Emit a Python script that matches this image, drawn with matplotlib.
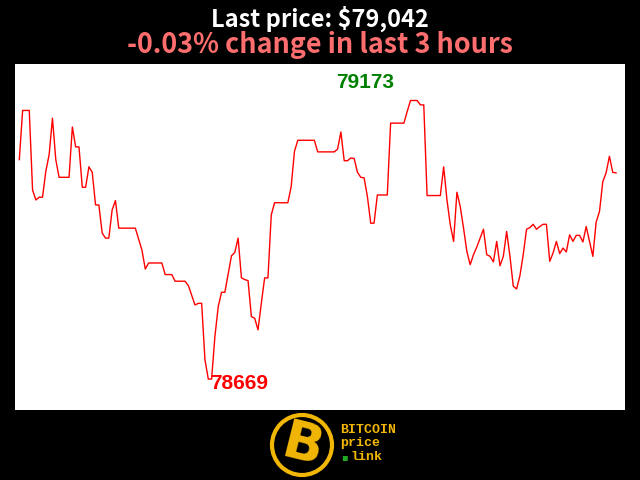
import matplotlib
matplotlib.use("Agg")
import matplotlib.pyplot as plt
from matplotlib.patches import Ellipse

# price over the last 3 hours (minute index, USD)
minutes = [0, 1, 3, 4, 5, 6, 7, 8, 9, 10, 11, 12, 15, 16, 17, 18, 19, 20, 21, 22,
           23, 24, 25, 26, 27, 28, 29, 30, 35, 37, 38, 39, 43, 44, 46, 47, 50, 51, 53, 54,
           55, 56, 57, 58, 59, 60, 61, 62, 64, 65, 66, 67, 68, 69, 70, 71, 72, 73, 74, 75,
           76, 77, 81, 82, 83, 84, 89, 90, 95, 96, 97, 98, 99, 100, 101, 102, 103, 104, 105, 106,
           107, 108, 111, 112, 116, 117, 118, 120, 121, 122, 123, 127, 128, 129, 130, 131, 132, 133, 134, 135,
           136, 137, 138, 139, 140, 141, 142, 143, 144, 145, 146, 147, 148, 149, 150, 151, 152, 153, 154, 155,
           156, 157, 158, 159, 160, 161, 162, 163, 164, 165, 166, 167, 168, 169, 170, 171, 172, 173, 174, 175,
           176, 177, 178, 179, 180]
prices = [79066, 79155, 79155, 79011, 78993, 78998, 78998, 79045, 79075, 79141, 79066, 79034, 79034, 79125, 79089, 79089, 79016, 79016, 79053, 79043,
          78984, 78984, 78933, 78924, 78924, 78975, 78992, 78942, 78942, 78902, 78868, 78879, 78879, 78858, 78858, 78846, 78846, 78838, 78803, 78806,
          78806, 78704, 78669, 78669, 78746, 78800, 78826, 78826, 78892, 78898, 78924, 78852, 78849, 78847, 78782, 78779, 78758, 78806, 78852, 78852,
          78966, 78988, 78988, 79017, 79081, 79101, 79101, 79080, 79080, 79085, 79116, 79064, 79064, 79069, 79068, 79043, 79034, 79033, 78999, 78951,
          78951, 79002, 79002, 79132, 79132, 79153, 79173, 79173, 79165, 79165, 79001, 79001, 79053, 78993, 78948, 78918, 79007, 78981, 78942, 78900,
          78876, 78894, 78908, 78924, 78940, 78894, 78891, 78881, 78918, 78874, 78891, 78936, 78891, 78837, 78832, 78856, 78894, 78940, 78943, 78949,
          78940, 78945, 78949, 78949, 78882, 78897, 78918, 78896, 78906, 78899, 78930, 78918, 78929, 78929, 78917, 78945, 78918, 78891, 78953, 78972,
          79026, 79042, 79072, 79043, 79042]

last_price = "$79,042"
change_text = "-0.03% change in last 3 hours"

fig = plt.figure(figsize=(6.4, 4.8), dpi=100, facecolor="black")
ax = fig.add_axes([15/640, 70/480, 610/640, 346/480])
ax.set_facecolor("white")
ax.plot(minutes, prices, color="red", lw=1)
ax.set_xlim(-1.3, 182.7)
ax.set_ylim(78613, 79239)
ax.set_xticks([])
ax.set_yticks([])
for s in ax.spines.values():
    s.set_visible(False)

# max / min labels
hi = prices.index(max(prices))
lo = prices.index(min(prices))
ax.annotate(str(max(prices)), (minutes[hi], prices[hi]), xytext=(-33, 13), textcoords="offset points",
            ha="center", va="center", color="green", fontsize=15, fontweight="bold", family="Liberation Sans")
ax.annotate(str(min(prices)), (minutes[lo], prices[lo]), xytext=(22, -3), textcoords="offset points",
            ha="center", va="center", color="red", fontsize=15, fontweight="bold", family="Liberation Sans")

# titles
title_font = ["Noto Sans CJK JP", "DejaVu Sans"]
fig.text(0.5, 1 - 18.5/480, "Last price: " + last_price, ha="center", va="center", color="white",
         fontsize=17, fontweight="bold", family=title_font)
fig.text(0.5, 1 - 45/480, change_text, ha="center", va="center", color="#ff6e6e",
         fontsize=19.4, fontweight="bold", family=title_font)

# logo
yellow = "#f2b705"
fig.patches.append(Ellipse((302/640, 1 - 445/480), 60/640, 60/480, transform=fig.transFigure,
                           facecolor="black", edgecolor=yellow, lw=3))
fig.text(302/640, 1 - 446/480, "B", ha="center", va="center", color=yellow, fontsize=38,
         fontweight="bold", family="DejaVu Sans", rotation=-14)
for txt, xx, yy in [("BITCOIN", 340, 430), ("price", 340, 443), ("link", 350, 457)]:
    fig.text(xx/640, 1 - yy/480, txt, ha="left", va="center",
             color=yellow, fontsize=9.5, fontweight="bold", family="Liberation Mono")
fig.text(344/640, 1 - 457/480, "\u25aa", ha="center", va="center", color="#22aa22", fontsize=7)

fig.savefig("out.png", dpi=100, facecolor="black")
